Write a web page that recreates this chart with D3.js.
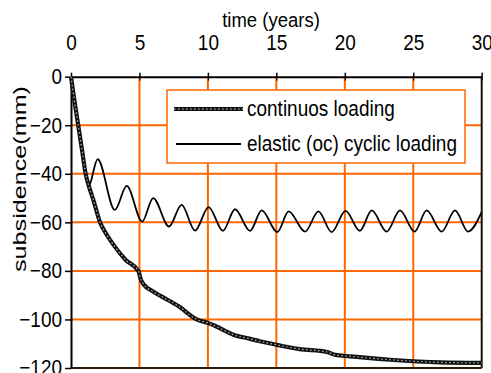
<!DOCTYPE html>
<html>
<head>
<meta charset="utf-8">
<script src="https://cdn.jsdelivr.net/npm/d3@7"></script>
<style>
  body { margin: 0; background: #fff; }
  svg { display: block; font-family: Arial, "Liberation Sans", sans-serif; }
</style>
</head>
<body>
<div id="chart"></div>
<script>
// ticks
const xTicks = [0, 5, 10, 15, 20, 25, 30];
const yTicks = [0, -20, -40, -60, -80, -100, -120];

// continuos loading (years, mm)
const contT = [0, 0.2, 0.5, 0.8, 1.07, 1.3, 1.63, 2.12, 2.6, 3.2, 4.0, 4.92, 5.1, 5.3, 6.0, 6.6, 7.84, 9.18, 10.03, 10.5, 11.86, 13.1, 13.8, 15.15, 16.7, 18.7, 19.3, 20.4, 23.3, 27, 30];
const contV = [0, -8, -19, -30, -40, -45, -50.7, -60, -65, -70, -75.5, -80, -83.5, -85.5, -88.5, -90.5, -94.5, -100, -101.5, -102.6, -106.3, -108, -109, -110.6, -112.2, -113.4, -114.6, -115.2, -116.6, -117.7, -117.9];

// elastic (oc) cyclic loading (years, mm)
const cycT = [0, 0.2, 0.5, 0.8, 1.07, 1.27, 1.95, 3.2, 4.07, 5.2, 6.0, 7.16, 8.08, 9.06, 10.05, 11.1, 11.98, 13.08, 13.93, 15.07, 15.9, 17.1, 18.07, 19.04, 20.05, 21.1, 21.97, 23.06, 24.03, 25.1, 25.98, 27.08, 28.05, 29.0, 30];
const cycV = [0, -8, -19, -30, -40, -45.3, -34, -54.9, -45, -59.7, -50, -61.7, -52.8, -63.4, -53.7, -63.5, -54.6, -63.5, -55.1, -64, -55.5, -63.8, -55.5, -64, -55.3, -63.5, -55.1, -63.8, -55.1, -63.8, -55.1, -63.8, -55.1, -63.8, -55.8];

const W = 491, H = 373;
const orange = "#ff6600";
const stretch = 1.12; // text in the original looks a bit taller than wide

const svg = d3.select("#chart").append("svg")
    .attr("width", W)
    .attr("height", H);

const x = d3.scaleLinear().domain([0, 30]).range([71, 481.7]);
const y = d3.scaleLinear().domain([-120, 0]).range([368, 76.7]);

// grid lines
svg.append("g").selectAll("line")
  .data(xTicks.slice(1, -1))
  .join("line")
    .attr("x1", d => x(d)).attr("x2", d => x(d))
    .attr("y1", y(0)).attr("y2", y(-120))
    .attr("stroke", orange).attr("stroke-width", 2);

svg.append("g").selectAll("line")
  .data(yTicks.slice(1, -1))
  .join("line")
    .attr("x1", x(0)).attr("x2", x(30))
    .attr("y1", d => y(d)).attr("y2", d => y(d))
    .attr("stroke", orange).attr("stroke-width", 2);

// right + bottom frame
svg.append("line")
  .attr("x1", x(30)).attr("x2", x(30)).attr("y1", y(0)).attr("y2", y(-120))
  .attr("stroke", "#1a1008").attr("stroke-width", 2);
svg.append("line")
  .attr("x1", x(0)).attr("x2", x(30)).attr("y1", y(-120)).attr("y2", y(-120))
  .attr("stroke", "#2a1a0a").attr("stroke-width", 2);

// top axis (time)
const xAxis = svg.append("g")
    .attr("transform", `translate(0,${y(0)})`)
    .call(d3.axisTop(x).tickValues(xTicks).tickSize(4).tickPadding(23).tickSizeOuter(0));
svg.append("g")
    .attr("transform", `translate(0,${y(0)})`)
    .call(d3.axisTop(x).tickValues(xTicks).tickSize(-4).tickFormat("").tickSizeOuter(0))
    .select(".domain").remove();

// left axis (subsidence)
const yAxis = svg.append("g")
    .attr("transform", `translate(${x(0)},0)`)
    .call(d3.axisLeft(y).tickValues(yTicks).tickSize(6).tickPadding(3).tickSizeOuter(0));

[xAxis, yAxis].forEach(g => {
  g.select(".domain").attr("stroke", "#000").attr("stroke-width", 2);
  g.selectAll(".tick line").attr("stroke", "#000").attr("stroke-width", 1.5);
  g.selectAll(".tick text")
    .attr("fill", "#000")
    .style("font-size", "19px")
    .style("font-family", "Arial, 'Liberation Sans', sans-serif");
});
xAxis.selectAll(".tick text")
  .attr("y", -27 / stretch)
  .attr("transform", `scale(1,${stretch})`);
yAxis.selectAll(".tick text")
  .attr("transform", `scale(1,${stretch})`);

// axis titles
svg.append("text")
  .attr("transform", `translate(271,27) scale(1,${stretch})`)
  .attr("text-anchor", "middle")
  .style("font-size", "18.5px")
  .text("time (years)");

svg.append("text")
  .attr("transform", "translate(26,179) rotate(-90)")
  .attr("text-anchor", "middle")
  .attr("textLength", 186)
  .attr("lengthAdjust", "spacingAndGlyphs")
  .style("font-size", "19px")
  .text("subsidence(mm)");

// curves
const contLine = d3.line()
  .x((d, i) => x(contT[i]))
  .y(d => y(d))
  .curve(d3.curveMonotoneX);

const cycLine = d3.line()
  .x((d, i) => x(cycT[i]))
  .y(d => y(d))
  .curve(d3.curveMonotoneX);

svg.append("path")
  .attr("d", cycLine(cycV))
  .attr("fill", "none")
  .attr("stroke", "#000")
  .attr("stroke-width", 1.8);

svg.append("path")
  .attr("d", contLine(contV))
  .attr("fill", "none")
  .attr("stroke", "#111")
  .attr("stroke-width", 4.2);
svg.append("path")
  .attr("d", contLine(contV))
  .attr("fill", "none")
  .attr("stroke", "#bbb")
  .attr("stroke-width", 1.2)
  .attr("stroke-dasharray", "1.5,2.5");

// legend
const legend = svg.append("g");
legend.append("rect")
  .attr("x", 167).attr("y", 90)
  .attr("width", 298).attr("height", 73)
  .attr("fill", "#fff")
  .attr("stroke", orange)
  .attr("stroke-width", 1.5);

legend.append("line")
  .attr("x1", 174).attr("x2", 243).attr("y1", 109).attr("y2", 109)
  .attr("stroke", "#111").attr("stroke-width", 4.2);
legend.append("line")
  .attr("x1", 174).attr("x2", 243).attr("y1", 109).attr("y2", 109)
  .attr("stroke", "#ddd").attr("stroke-width", 1.2).attr("stroke-dasharray", "1.5,2.5");
legend.append("text")
  .attr("transform", `translate(247,116) scale(1,${stretch})`)
  .style("font-size", "19px")
  .text("continuos loading");

legend.append("line")
  .attr("x1", 176).attr("x2", 241).attr("y1", 144).attr("y2", 144)
  .attr("stroke", "#000").attr("stroke-width", 1.8);
legend.append("text")
  .attr("transform", `translate(247,151) scale(1,${stretch})`)
  .style("font-size", "19px")
  .text("elastic (oc) cyclic loading");
</script>
</body>
</html>
